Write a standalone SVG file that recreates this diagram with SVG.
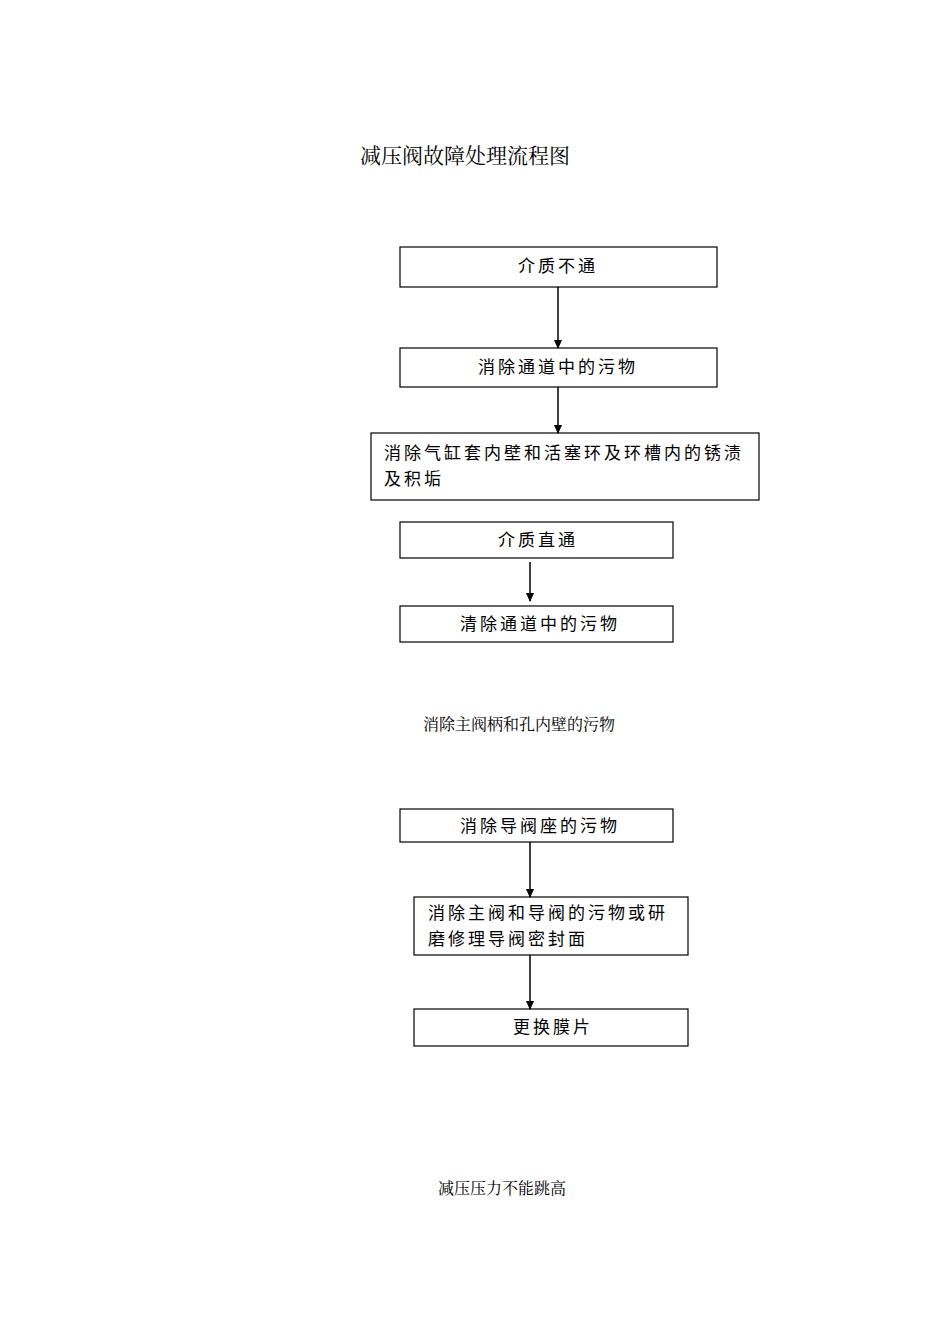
<svg xmlns="http://www.w3.org/2000/svg" width="950" height="1344" viewBox="0 0 950 1344">
<style>
.b{fill:#fff;stroke:#000;stroke-width:1.2}
.t{font-family:"Noto Sans CJK SC",sans-serif;font-size:17px;letter-spacing:3px;fill:#000}
.s{font-family:"Noto Serif CJK SC","Liberation Serif","Noto Sans CJK SC",serif;fill:#000}
.c{stroke:#000;stroke-width:1.5;marker-end:url(#a)}
</style>
<defs><marker id="a" markerWidth="10" markerHeight="10" refX="8" refY="5" orient="auto" markerUnits="userSpaceOnUse"><path d="M0,1 L9,5 L0,9 Z" fill="#000"/></marker></defs>
<rect width="950" height="1344" fill="#fff"/>
<text class="s" x="360" y="163" font-size="21">减压阀故障处理流程图</text>
<text class="s" x="423" y="730" font-size="16">消除主阀柄和孔内壁的污物</text>
<text class="s" x="438" y="1194" font-size="16">减压压力不能跳高</text>
<g id="n1"><rect class="b" x="400" y="247" width="317" height="40"/><text class="t" x="558" y="272" text-anchor="middle">介质不通</text></g>
<g id="n2"><rect class="b" x="400" y="348" width="317" height="39"/><text class="t" x="558" y="373" text-anchor="middle">消除通道中的污物</text></g>
<g id="n3"><rect class="b" x="371" y="433" width="388" height="67"/><text class="t" x="384" y="459">消除气缸套内壁和活塞环及环槽内的锈渍</text><text class="t" x="384" y="485">及积垢</text></g>
<g id="n4"><rect class="b" x="400" y="522" width="273" height="36"/><text class="t" x="538" y="546" text-anchor="middle">介质直通</text></g>
<g id="n5"><rect class="b" x="400" y="606" width="273" height="36"/><text class="t" x="540" y="630" text-anchor="middle">清除通道中的污物</text></g>
<g id="n6"><rect class="b" x="400" y="809" width="273" height="33"/><text class="t" x="540" y="832" text-anchor="middle">消除导阀座的污物</text></g>
<g id="n7"><rect class="b" x="414" y="897" width="274" height="58"/><text class="t" x="428" y="919">消除主阀和导阀的污物或研</text><text class="t" x="428" y="945">磨修理导阀密封面</text></g>
<g id="n8"><rect class="b" x="414" y="1009" width="274" height="37"/><text class="t" x="553" y="1033" text-anchor="middle">更换膜片</text></g>
<g id="connectors">
<line class="c" x1="558" y1="287" x2="558" y2="348"/>
<line class="c" x1="558" y1="387" x2="558" y2="433"/>
<line class="c" x1="530" y1="562" x2="530" y2="601"/>
<line class="c" x1="530" y1="842" x2="530" y2="897"/>
<line class="c" x1="530" y1="955" x2="530" y2="1009"/>
</g>
</svg>
